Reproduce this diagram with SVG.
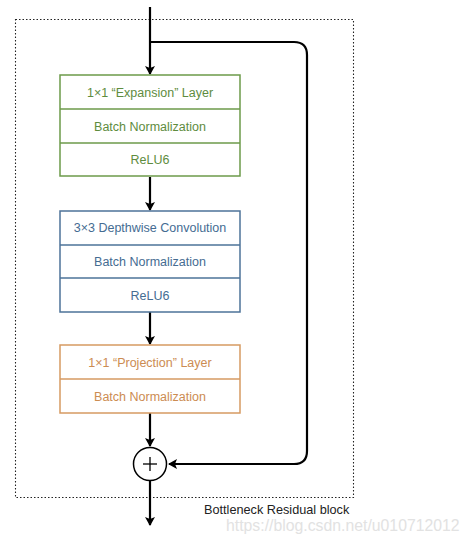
<svg xmlns="http://www.w3.org/2000/svg" width="469" height="544" viewBox="0 0 469 544">
<defs>
<marker id="ah" markerWidth="10" markerHeight="10" refX="8" refY="5" orient="auto" markerUnits="userSpaceOnUse">
<path d="M0,0 L9,5 L0,10 L2,5 Z" fill="#000"/>
</marker>
<style>
.lbl{font-family:"Liberation Sans",Arial,sans-serif;font-size:12.5px;text-anchor:middle}
.g rect{fill:#fff;stroke:#6c9a4a;stroke-width:1.5}
.g line{stroke:#6c9a4a;stroke-width:1.5}
.g text{fill:#5e8c3e}
.b rect{fill:#fff;stroke:#4d7399;stroke-width:1.5}
.b line{stroke:#4d7399;stroke-width:1.5}
.b text{fill:#456c92}
.o rect{fill:#fff;stroke:#d69a62;stroke-width:1.5}
.o line{stroke:#d69a62;stroke-width:1.5}
.o text{fill:#cc8c52}
.conn{stroke:#000;stroke-width:2.2;fill:none}
</style>
</defs>
<rect width="469" height="544" fill="#fff"/>
<rect id="block" x="15.5" y="19.5" width="338" height="478" fill="none" stroke="#222" stroke-width="1.1" stroke-dasharray="1.5,2"/>
<g id="connectors">
<line class="conn" x1="150" y1="7" x2="150" y2="74" marker-end="url(#ah)"/>
<path class="conn" d="M150,42 H294 Q307,42 307,55 V451 Q307,464 294,464 H169" marker-end="url(#ah)"/>
<line class="conn" x1="150" y1="177" x2="150" y2="210" marker-end="url(#ah)"/>
<line class="conn" x1="150" y1="312" x2="150" y2="344" marker-end="url(#ah)"/>
<line class="conn" x1="150" y1="413" x2="150" y2="446" marker-end="url(#ah)"/>
<line class="conn" x1="150" y1="481" x2="150" y2="525" marker-end="url(#ah)"/>
</g>
<g id="expansion" class="g">
<rect x="60" y="75" width="180" height="101"/>
<line x1="60" y1="109" x2="240" y2="109"/>
<line x1="60" y1="143" x2="240" y2="143"/>
<text class="lbl" x="150" y="97">1×1 “Expansion” Layer</text>
<text class="lbl" x="150" y="131">Batch Normalization</text>
<text class="lbl" x="150" y="164">ReLU6</text>
</g>
<g id="depthwise" class="b">
<rect x="60" y="211" width="180" height="101"/>
<line x1="60" y1="245" x2="240" y2="245"/>
<line x1="60" y1="278" x2="240" y2="278"/>
<text class="lbl" x="150" y="232">3×3 Depthwise Convolution</text>
<text class="lbl" x="150" y="266">Batch Normalization</text>
<text class="lbl" x="150" y="300">ReLU6</text>
</g>
<g id="projection" class="o">
<rect x="60" y="345" width="180" height="68"/>
<line x1="60" y1="379" x2="240" y2="379"/>
<text class="lbl" x="150" y="367">1×1 “Projection” Layer</text>
<text class="lbl" x="150" y="401">Batch Normalization</text>
</g>
<g id="add">
<circle cx="150" cy="464" r="16.5" fill="#fff" stroke="#000" stroke-width="1.5"/>
<line x1="143" y1="464" x2="157" y2="464" stroke="#000" stroke-width="1.3"/>
<line x1="150" y1="457" x2="150" y2="471" stroke="#000" stroke-width="1.3"/>
</g>
<text x="204" y="514" font-family="'Liberation Sans',Arial,sans-serif" font-size="12.7" fill="#222">Bottleneck Residual block</text>
<text x="226" y="531" font-family="'Liberation Sans',Arial,sans-serif" font-size="15.8" fill="#e2e2e2">https://blog.csdn.net/u010712012</text>
</svg>
